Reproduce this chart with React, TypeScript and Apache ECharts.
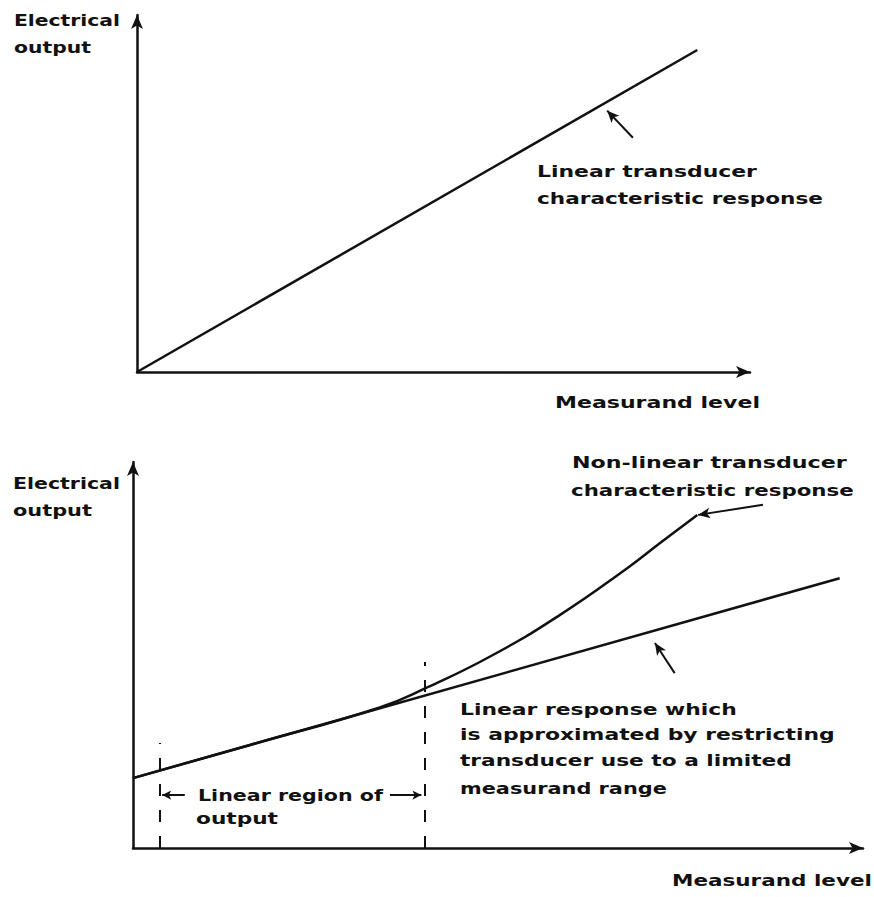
import React, { useEffect, useRef } from "react";
import * as echarts from "echarts";

// Top panel: linear transducer response (data units 0-100 on both axes)
const topX = [0, 91.4];
const topY = [0, 90.2];

// Bottom panel: linear approximation and non-linear response
const linX = [0, 96.8];
const linY = [18.1, 69.9];
const curveX = [0, 16.0, 33.8, 40.3, 49.3, 58.5, 67.7, 72.2, 77.3];
const curveY = [18.1, 26.7, 36.4, 41.6, 50.0, 60.4, 72.5, 79.0, 86.3];

// Annotation leaders / markers (data coordinates)
const topLeader = [[76.7, 73.2], [80.9, 65.6]];
const linLeader = [[71.5, 53.1], [74.2, 45.3]];
const curveLeader = [[77.4, 86.3], [86.3, 88.9]];
const dashLeft = [[3.6, 0], [3.6, 27.2]];
const dashRight = [[39.9, 0], [39.9, 48.2]];
const regionArrowLeft = [[4.0, 13.7], [7.1, 13.7]];
const regionArrowRight = [[39.5, 13.7], [35.2, 13.7]];

const labels = [
  { text: "Electrical", x: 14, y: 20, w: 106 },
  { text: "output", x: 14, y: 47, w: 77 },
  { text: "Linear transducer", x: 537, y: 172, w: 220 },
  { text: "characteristic response", x: 537, y: 198, w: 286 },
  { text: "Measurand level", x: 555, y: 403, w: 205 },
  { text: "Electrical", x: 13, y: 483, w: 107 },
  { text: "output", x: 13, y: 510, w: 79 },
  { text: "Non-linear transducer", x: 572, y: 463, w: 275 },
  { text: "characteristic response", x: 571, y: 490, w: 283 },
  { text: "Linear region of", x: 198, y: 795, w: 185 },
  { text: "output", x: 196, y: 818, w: 82 },
  { text: "Linear response which", x: 460, y: 710, w: 277 },
  { text: "is approximated by restricting", x: 460, y: 735, w: 375 },
  { text: "transducer use to a limited", x: 460, y: 760, w: 332 },
  { text: "measurand range", x: 460, y: 788, w: 207 },
  { text: "Measurand level", x: 672, y: 880, w: 200 },
];

const INK = "#111";
const FONT_FAMILY = "DejaVu Sans";
const FONT_SIZE = 16;

function measure(text: string): number {
  const c = document.createElement("canvas");
  const ctx = c.getContext("2d");
  if (!ctx) return text.length * FONT_SIZE * 0.6;
  ctx.font = `bold ${FONT_SIZE}px "${FONT_FAMILY}"`;
  return ctx.measureText(text).width;
}

const pairs = (a: number[], b: number[]) => a.map((v, i) => [v, b[i]]);

const seg = (p: number[][], headSymbol: string, extra: any = {}) => [
  { coord: p[0], symbol: headSymbol, symbolSize: [8, 12], ...extra },
  { coord: p[1], symbol: "none", ...extra },
];

const axisCommon = () => ({
  type: "value",
  min: 0,
  max: 100,
  axisLine: {
    show: true,
    symbol: ["none", "arrow"],
    symbolSize: [9, 14],
    lineStyle: { color: INK, width: 2.5 },
  },
  axisTick: { show: false },
  axisLabel: { show: false },
  splitLine: { show: false },
});

export default function App() {
  const ref = useRef<HTMLDivElement>(null);

  useEffect(() => {
    if (!ref.current) return;
    const chart = echarts.init(ref.current, undefined, { renderer: "svg" });

    const graphic = labels.map((l) => {
      const m = measure(l.text);
      return {
        type: "text",
        x: l.x,
        y: l.y,
        scaleX: m > 0 ? l.w / m : 1,
        silent: true,
        style: {
          text: l.text,
          fontSize: FONT_SIZE,
          fontWeight: "bold",
          fontFamily: FONT_FAMILY,
          fill: INK,
          align: "left",
          verticalAlign: "middle",
        },
      };
    });

    const mlBase = {
      silent: true,
      animation: false,
      symbol: ["none", "none"],
      label: { show: false },
      emphasis: { disabled: true },
      lineStyle: { color: INK, width: 2, type: "solid" },
    };

    chart.setOption({
      animation: false,
      backgroundColor: "#fff",
      grid: [
        { left: 137, top: 15, width: 613, height: 357 },
        { left: 133, top: 462, width: 730, height: 386 },
      ],
      xAxis: [
        { ...axisCommon(), gridIndex: 0 },
        { ...axisCommon(), gridIndex: 1 },
      ],
      yAxis: [
        { ...axisCommon(), gridIndex: 0 },
        { ...axisCommon(), gridIndex: 1 },
      ],
      series: [
        {
          name: "Linear transducer characteristic response",
          type: "line",
          xAxisIndex: 0,
          yAxisIndex: 0,
          data: pairs(topX, topY),
          showSymbol: false,
          lineStyle: { color: INK, width: 2.5 },
          markLine: {
            ...mlBase,
            data: [seg(topLeader, "arrow")],
          },
        },
        {
          name: "Linear response",
          type: "line",
          xAxisIndex: 1,
          yAxisIndex: 1,
          data: pairs(linX, linY),
          showSymbol: false,
          lineStyle: { color: INK, width: 2.5 },
          markLine: {
            ...mlBase,
            data: [
              seg(linLeader, "arrow"),
              seg(curveLeader, "arrow"),
              seg(regionArrowLeft, "arrow", { symbolSize: [7, 9] }),
              seg(regionArrowRight, "arrow", { symbolSize: [7, 9] }),
              seg(dashLeft, "none", { lineStyle: { color: INK, width: 2, type: [12, 14] } }),
              seg(dashRight, "none", { lineStyle: { color: INK, width: 2, type: [12, 14] } }),
            ],
          },
        },
        {
          name: "Non-linear transducer characteristic response",
          type: "line",
          xAxisIndex: 1,
          yAxisIndex: 1,
          data: pairs(curveX, curveY),
          smooth: 0.5,
          showSymbol: false,
          lineStyle: { color: INK, width: 2.5 },
        },
      ],
      graphic,
    });

    return () => chart.dispose();
  }, []);

  return (
    <div
      ref={ref}
      style={{ position: "fixed", left: 0, top: 0, width: 874, height: 897, background: "#fff" }}
    />
  );
}
